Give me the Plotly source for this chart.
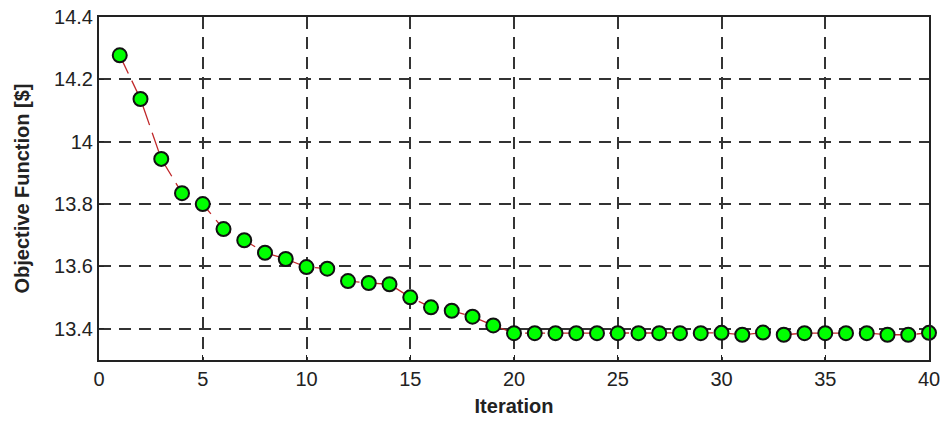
import plotly.graph_objects as go

iterations = list(range(1, 41))
objective = [14.277, 14.137, 13.945, 13.835, 13.800, 13.720, 13.684, 13.644, 13.624, 13.598,
             13.593, 13.553, 13.547, 13.543, 13.501, 13.469, 13.458, 13.439, 13.411, 13.386,
             13.386, 13.386, 13.386, 13.386, 13.386, 13.386, 13.386, 13.386, 13.386, 13.387,
             13.381, 13.388, 13.381, 13.386, 13.386, 13.386, 13.386, 13.381, 13.381, 13.387]

x_ticks = [0, 5, 10, 15, 20, 25, 30, 35, 40]
y_ticks = [13.4, 13.6, 13.8, 14.0, 14.2, 14.4]
y_tick_text = ["13.4", "13.6", "13.8", "14", "14.2", "14.4"]

fig = go.Figure()
fig.add_trace(go.Scatter(
    x=iterations, y=objective, mode="lines+markers",
    line=dict(color="#c0282a", width=1.3, dash="20px,8px"),
    marker=dict(size=14, color="#00ff00", line=dict(color="#111111", width=2)),
    showlegend=False, cliponaxis=False,
))

grid = dict(showgrid=True, gridcolor="#333333", gridwidth=1.6, griddash="12px,8px")
font_ticks = dict(family="Liberation Sans, Arial", size=20, color="#222222")
font_title = dict(family="Liberation Sans, Arial", size=20, color="#222222")

fig.update_layout(
    width=946, height=421,
    margin=dict(l=99, r=17, t=17, b=61),
    paper_bgcolor="white", plot_bgcolor="white",
    xaxis=dict(range=[0, 40], tickvals=x_ticks, showline=True, linecolor="#222222",
               linewidth=2, mirror=True, ticks="inside", ticklen=5, tickcolor="#222222",
               tickfont=font_ticks, zeroline=False, automargin=False,
               title=dict(text="<b>Iteration</b>", font=font_title, standoff=10),
               **grid),
    yaxis=dict(range=[13.3, 14.4], tickvals=y_ticks, ticktext=y_tick_text, showline=True,
               linecolor="#222222", linewidth=2, mirror=True, ticks="inside", ticklen=5,
               tickcolor="#222222", tickfont=font_ticks, zeroline=False, automargin=False,
               title=dict(text="<b>Objective Function [$]</b>", font=font_title, standoff=19),
               **grid),
)

fig.write_html("out.html", config={"displayModeBar": False},
               post_script="document.body.style.margin='0';document.body.style.overflow='hidden';")
